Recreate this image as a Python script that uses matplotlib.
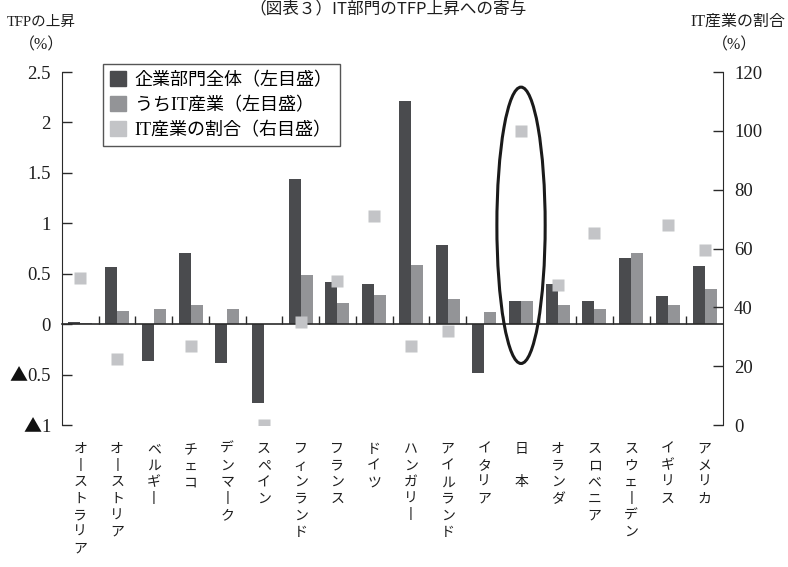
import numpy as np
import matplotlib.pyplot as plt
from matplotlib.patches import Ellipse, Patch
from matplotlib.transforms import blended_transform_factory

plt.rcParams['font.family'] = ['Liberation Serif', 'Noto Sans CJK JP', 'DejaVu Sans']

# data
countries = ["オーストラリア", "オーストリア", "ベルギー", "チェコ", "デンマーク", "スペイン",
             "フィンランド", "フランス", "ドイツ", "ハンガリー", "アイルランド", "イタリア",
             "日本", "オランダ", "スロベニア", "スウェーデン", "イギリス", "アメリカ"]
tfp_total = [0.02, 0.57, -0.37, 0.71, -0.39, -0.78, 1.44, 0.42, 0.40, 2.21, 0.78, -0.48,
             0.23, 0.40, 0.23, 0.66, 0.28, 0.58]
tfp_it = [0.01, 0.13, 0.15, 0.19, 0.15, 0.0, 0.49, 0.21, 0.29, 0.59, 0.25, 0.12,
          0.23, 0.19, 0.15, 0.71, 0.19, 0.35]
it_share = [50, 22.5, np.nan, 27, np.nan, 0, 35, 49, 71, 27, 32, np.nan,
            100, 47.6, 65.3, np.nan, 68, 59.4]

left_ticks = [-1, -0.5, 0, 0.5, 1, 1.5, 2, 2.5]
left_labels = ["1", "0.5", "0", "0.5", "1", "1.5", "2", "2.5"]  # negatives get a ▲ below
right_ticks = [0, 20, 40, 60, 80, 100, 120]

c_total = "#4a4b4e"
c_it = "#939497"
c_share = "#c3c4c7"
c_line = "#2a2a2a"
c_text = "#1e1e1e"

W, H = 788, 567
fig = plt.figure(figsize=(W / 100, H / 100), dpi=100)
ax = fig.add_axes([62 / W, 1 - 425 / H, 661 / W, 353 / H])

x = np.arange(len(countries))
w = 0.327
ax.bar(x - w / 2, tfp_total, w, color=c_total, zorder=2)
ax.bar(x + w / 2, tfp_it, w, color=c_it, zorder=2)
ax.set_xlim(-0.5, len(countries) - 0.5)
ax.set_ylim(-1, 2.5)

for s in ["top", "right"]:
    ax.spines[s].set_visible(False)
ax.spines["bottom"].set_position(("data", 0))
ax.spines["bottom"].set_color(c_line)
ax.spines["bottom"].set_linewidth(1.2)
ax.spines["bottom"].set_zorder(3)
ax.spines["left"].set_color(c_line)

ax.set_xticks(np.arange(0.5, len(countries) - 1, 1))
ax.set_xticklabels([])
ax.tick_params(axis="x", direction="in", length=6, width=1, color=c_line)
ax.set_yticks(left_ticks)
ax.set_yticklabels(left_labels)
ax.tick_params(axis="y", direction="in", length=7, width=1, color=c_line, pad=8,
               labelsize=13.5, labelcolor=c_text)

ax2 = ax.twinx()
ax2.set_ylim(0, 120)
ax2.plot(x, it_share, "s", ms=9, color=c_share, mec="none", zorder=4)
for s in ["top", "left", "bottom"]:
    ax2.spines[s].set_visible(False)
ax2.spines["right"].set_color(c_line)
ax2.set_yticks(right_ticks)
ax2.tick_params(axis="y", direction="in", length=7, width=1, color=c_line, pad=8,
                labelsize=13.5, labelcolor=c_text)

# ellipse highlighting Japan
ax2.add_patch(Ellipse((12, 0.98), 1.315, 2.74, transform=ax.transData, fill=False,
                      lw=2.2, ec="#1a1a1a", zorder=5, clip_on=False))

# vertical category labels (long vowel mark drawn as a vertical stroke)
tr = blended_transform_factory(ax.transData, fig.transFigure)
for i, name in enumerate(countries):
    txt = "\n".join(name.replace("ー", "丨"))
    if name == "日本":
        txt = "日\n\n本"
    ax.text(i, 1 - 443 / H, txt, transform=tr, ha="center", va="top",
            fontsize=10, linespacing=1.36, color=c_text)

# legend
handles = [Patch(color=c_total), Patch(color=c_it), Patch(color=c_share)]
labels = ["企業部門全体（左目盛）", "うちIT産業（左目盛）", "IT産業の割合（右目盛）"]
leg = fig.legend(handles, labels, loc="upper left", bbox_to_anchor=(103 / W, 1 - 64 / H),
                 fontsize=13, frameon=True, fancybox=False, borderaxespad=0,
                 handlelength=0.9, handleheight=0.9, handletextpad=0.45,
                 labelspacing=0.4, borderpad=0.4)
leg.get_frame().set_edgecolor(c_line)
leg.get_frame().set_linewidth(1)

# axis titles and chart title
fig.text(41 / W, 1 - 22 / H, "TFPの上昇", ha="center", va="center", fontsize=10.5, color=c_text)
fig.text(42 / W, 1 - 45 / H, "（%）", ha="center", va="center", fontsize=11.5, color=c_text)
fig.text(785 / W, 1 - 22 / H, "IT産業の割合", ha="right", va="center", fontsize=11.5, color=c_text)
fig.text(735 / W, 1 - 45 / H, "（%）", ha="center", va="center", fontsize=11.5, color=c_text)
fig.text(388 / W, 1 - 1 / H, "（図表３）IT部門のTFP上昇への寄与", ha="center", va="top",
         fontsize=12, color=c_text, family=["Noto Sans CJK JP", "DejaVu Sans"])

# black triangles marking negative values on the left axis
fig.canvas.draw()
renderer = fig.canvas.get_renderer()
inv = fig.transFigure.inverted()
for val, lab in zip(left_ticks, ax.get_yticklabels()):
    if val < 0:
        bb = lab.get_window_extent(renderer)
        fx, fy = inv.transform((bb.x0, (bb.y0 + bb.y1) / 2))
        fig.text(fx, fy, "▲", ha="right", va="center", fontsize=13,
                 color="#111111", family=["Noto Sans CJK JP"])

fig.savefig("out.png", dpi=100)
